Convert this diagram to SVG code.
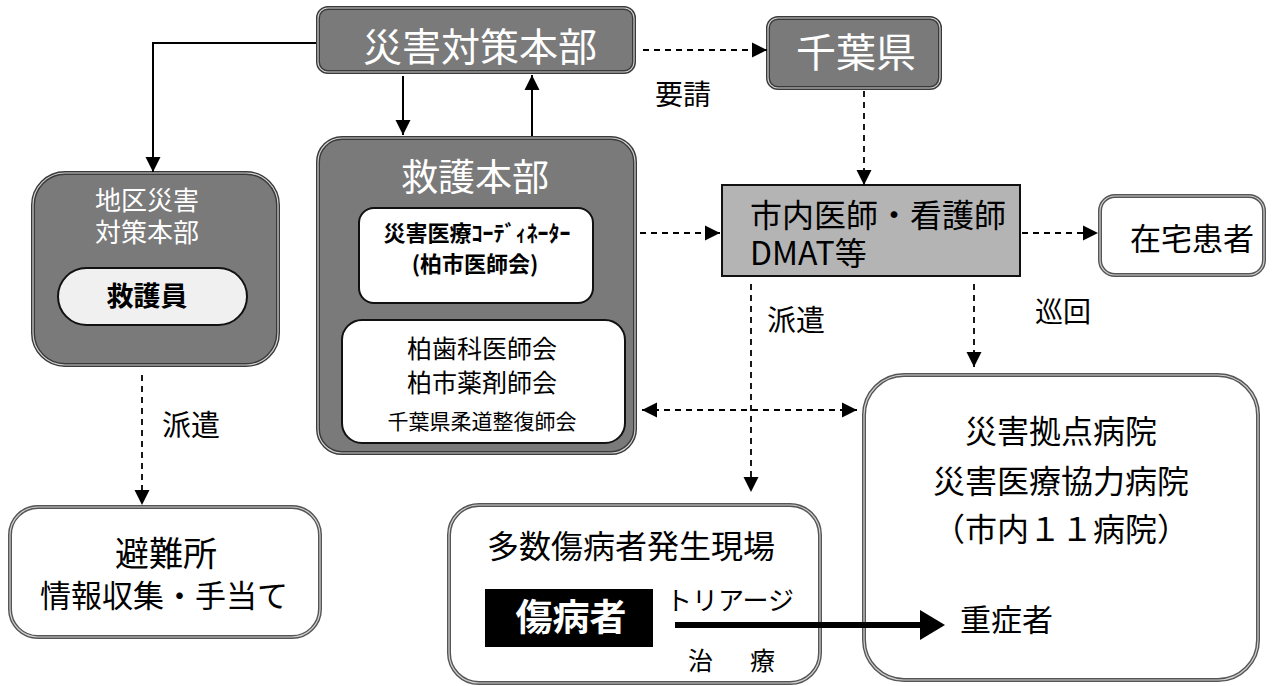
<svg xmlns="http://www.w3.org/2000/svg" width="1280" height="686" viewBox="0 0 1280 686">
<style>
.t{font-family:"Noto Sans CJK JP","Noto Sans",sans-serif;fill:#000}
.w{fill:#fff}
.c{text-anchor:middle}
.b{font-weight:bold}
.o{stroke:#3a3a3a;stroke-width:4}
.oi{fill:none;stroke:#d0d0d0;stroke-width:1.2}
.dk{fill:#7a7a7a}
.wt{fill:#fff}
.s{fill:#fff;stroke:#111;stroke-width:2}
.ln{fill:none;stroke:#000;stroke-width:2}
.da{fill:none;stroke:#000;stroke-width:1.8;stroke-dasharray:6 5}
</style>
<defs>
<marker id="a" viewBox="0 0 10 10" refX="10" refY="5" markerUnits="userSpaceOnUse" markerWidth="15" markerHeight="16" orient="auto-start-reverse">
<path d="M0,0 L10,5 L0,10 z" fill="#000"/>
</marker>
</defs>
<rect width="1280" height="686" fill="#fff"/>

<g id="saigai-honbu">
<rect class="dk o" x="318" y="8" width="316" height="64" rx="10"/>
<rect class="oi" x="318" y="8" width="316" height="64" rx="10"/>
<text class="t w c" x="480" y="61" font-size="39">災害対策本部</text>
</g>

<g id="chiba">
<rect class="dk o" x="768" y="18" width="172" height="70" rx="10"/>
<rect class="oi" x="768" y="18" width="172" height="70" rx="10"/>
<text class="t w c" x="856" y="67" font-size="40">千葉県</text>
</g>

<text class="t" x="655" y="105" font-size="28">要請</text>

<g id="chiku">
<rect class="dk o" x="33" y="173" width="245" height="192" rx="32"/>
<rect class="oi" x="33" y="173" width="245" height="192" rx="32"/>
<text class="t w c" x="147" y="210" font-size="26">地区災害</text>
<text class="t w c" x="147" y="242" font-size="26">対策本部</text>
<g id="kyugoin">
<rect x="58" y="268" width="189" height="57" rx="28.5" fill="#f0f0f0" stroke="#111" stroke-width="2"/>
<text class="t b c" x="147" y="306" font-size="27">救護員</text>
</g>
</g>

<g id="kyugo-honbu">
<rect class="dk o" x="318" y="138" width="317" height="315" rx="24"/>
<rect class="oi" x="318" y="138" width="317" height="315" rx="24"/>
<text class="t w c" x="475" y="191" font-size="37">救護本部</text>
<g id="coordinator">
<rect class="s" x="359" y="208" width="234" height="95" rx="15"/>
<text class="t b c" x="477" y="241" font-size="22">災害医療ｺｰﾃﾞｨﾈｰﾀｰ</text>
<text class="t b c" x="475" y="272" font-size="22">(柏市医師会)</text>
</g>
<g id="ishikai">
<rect class="s" x="342" y="320" width="283" height="123" rx="20"/>
<text class="t c" x="482" y="358" font-size="25">柏歯科医師会</text>
<text class="t c" x="482" y="392" font-size="25">柏市薬剤師会</text>
<text class="t c" x="482" y="429" font-size="21">千葉県柔道整復師会</text>
</g>
</g>

<g id="shinai">
<rect x="722" y="185" width="298" height="91" fill="#b4b4b4" stroke="#111" stroke-width="2"/>
<text class="t" x="750" y="227" font-size="32">市内医師・看護師</text>
<text class="t" x="750" y="265" font-size="32">DMAT等</text>
</g>

<g id="zaitaku">
<rect class="wt o" x="1100" y="196" width="164" height="79" rx="15" style="stroke:#555"/>
<rect class="oi" x="1100" y="196" width="164" height="79" rx="15"/>
<text class="t" x="1130" y="250" font-size="31">在宅患者</text>
</g>

<text class="t" x="767" y="331" font-size="29">派遣</text>
<text class="t" x="1035" y="322" font-size="28">巡回</text>

<g id="byoin">
<rect class="wt o" x="864" y="375" width="394" height="305" rx="40" style="stroke:#555"/>
<rect class="oi" x="864" y="375" width="394" height="305" rx="40"/>
<text class="t c" x="1061" y="443" font-size="32">災害拠点病院</text>
<text class="t c" x="1061" y="493" font-size="32">災害医療協力病院</text>
<text class="t c" x="1061" y="541" font-size="32">（市内１１病院）</text>
<text class="t" x="960" y="631" font-size="31">重症者</text>
</g>

<g id="genba">
<rect class="wt o" x="449" y="505" width="371" height="178" rx="30" style="stroke:#555"/>
<rect class="oi" x="449" y="505" width="371" height="178" rx="30"/>
<text class="t" x="487" y="558" font-size="32">多数傷病者発生現場</text>
<g id="shobyosha">
<rect x="485" y="589" width="168" height="58" fill="#000"/>
<text class="t w b c" x="571" y="631" font-size="37">傷病者</text>
</g>
<text class="t" x="666" y="610" font-size="26">トリアージ</text>
<text class="t" x="688" y="670" font-size="25" letter-spacing="6">治　療</text>
</g>

<g id="hinanjo">
<rect class="wt o" x="10" y="507" width="310" height="130" rx="28" style="stroke:#555"/>
<rect class="oi" x="10" y="507" width="310" height="130" rx="28"/>
<text class="t c" x="166" y="566" font-size="34">避難所</text>
<text class="t c" x="164" y="607" font-size="31">情報収集・手当て</text>
</g>

<text class="t" x="162" y="436" font-size="29">派遣</text>

<g id="connectors">
<path class="ln" d="M316,43 H153 V172" marker-end="url(#a)"/>
<path class="ln" d="M403,76 V135" marker-end="url(#a)"/>
<path class="ln" d="M532,136 V75" marker-end="url(#a)"/>
<path class="da" d="M643,50 H767" marker-end="url(#a)"/>
<path class="da" d="M864,91 V185" marker-end="url(#a)"/>
<path class="da" d="M640,233 H720" marker-end="url(#a)"/>
<path class="da" d="M1022,233 H1098" marker-end="url(#a)"/>
<path class="da" d="M751,284 V492" marker-end="url(#a)"/>
<path class="da" d="M974,284 V367" marker-end="url(#a)"/>
<path class="da" d="M642,410 H857" marker-start="url(#a)" marker-end="url(#a)"/>
<path class="da" d="M142,375 V505" marker-end="url(#a)"/>
<path d="M675,625 H922" fill="none" stroke="#000" stroke-width="6"/>
<path d="M920,610 L945,625 L920,640 z" fill="#000"/>
</g>
</svg>
